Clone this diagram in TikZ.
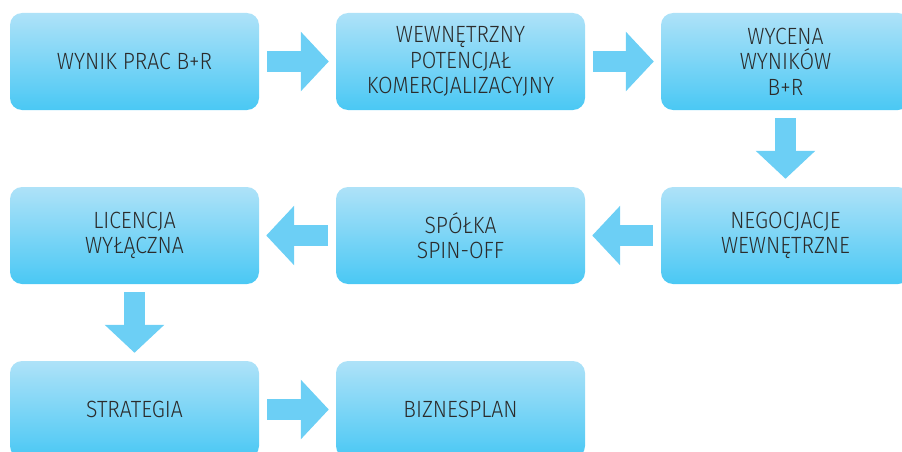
\documentclass[tikz,border=0pt]{standalone}
\usepackage{fontspec}
\setmainfont{Fira Sans Light}[FakeStretch=0.9]
\usetikzlibrary{arrows.meta}
\definecolor{boxtop}{HTML}{AEE2F8}
\definecolor{boxbot}{HTML}{4AC8F4}
\definecolor{arrowblue}{HTML}{6CCFF5}
\definecolor{txt}{HTML}{2B2B2B}
\tikzset{
  stage/.style={rounded corners=12pt,minimum width=249pt,minimum height=97pt,
    top color=boxtop,bottom color=boxbot,draw=none,text=txt,align=center,
    font=\fontsize{23.5}{25.5}\selectfont},
  fatarrow/.style={draw=arrowblue,line width=21pt,
    -{Triangle[width=58pt,length=28pt]}}
}
\begin{document}
\begin{tikzpicture}[x=1pt,y=-1pt]
\useasboundingbox (0,0) rectangle (902,452);
\node[stage] (wyn) at (134.5,61.5) {WYNIK PRAC B+R};
\node[stage] (pot) at (460.5,61.5) {WEWNĘTRZNY\\POTENCJAŁ\\KOMERCJALIZACYJNY};
\node[stage] (wyc) at (785.5,61.5) {WYCENA\\WYNIKÓW\\B+R};
\node[stage] (neg) at (785.5,235.5) {NEGOCJACJE\\WEWNĘTRZNE};
\node[stage] (spo) at (460.5,235.5) {SPÓŁKA\\SPIN-OFF};
\node[stage] (lic) at (134.5,235.5) {LICENCJA\\WYŁĄCZNA};
\node[stage] (str) at (134.5,409.5) {STRATEGIA};
\node[stage] (biz) at (460.5,409.5) {BIZNESPLAN};
% poziome strzalki
\foreach \a/\b in {wyn/pot,pot/wyc,str/biz}{\draw[fatarrow,shorten <=8pt,shorten >=7pt] (\a.east)--(\b.west);}
\foreach \a/\b in {neg/spo,spo/lic}{\draw[fatarrow,shorten <=8pt,shorten >=7pt] (\a.west)--(\b.east);}
% pionowe strzalki
\foreach \a/\b in {wyc/neg,lic/str}{\draw[fatarrow,shorten <=8pt,shorten >=8pt] (\a.south)--(\b.north);}
\end{tikzpicture}
\end{document}
